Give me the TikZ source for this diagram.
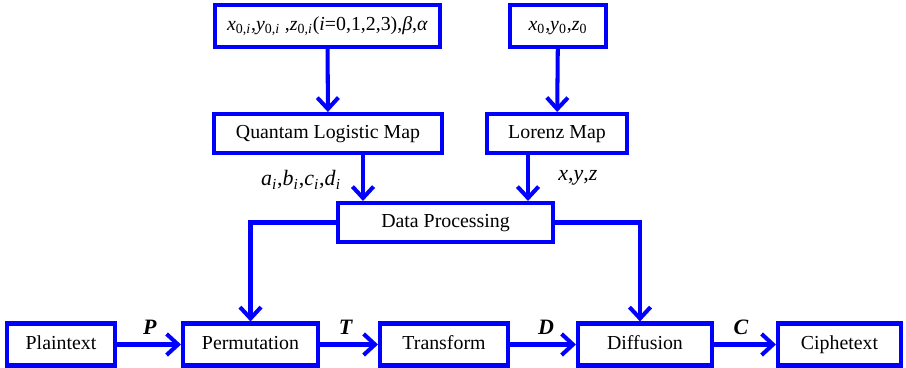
\documentclass[tikz,border=0pt]{standalone}
\usepackage{fontspec}
\setmainfont{Liberation Serif}
\usetikzlibrary{arrows.meta}
\newcommand{\lo}[1]{\textsubscript{#1}}

\begin{document}
\begin{tikzpicture}[x=0.02cm, y=-0.02cm,
	box/.style={draw=blue, line width=2.3pt, fill=white, inner sep=0pt, text height=1.6ex, text depth=0.45ex, font=\fontsize{11.3}{13}\selectfont},
	flow/.style={draw=blue, line width=2.3pt, -{Straight Barb[length=6.5pt, width=12pt, line width=2.3pt]}},
	lbl/.style={font=\fontsize{12.5}{14}\selectfont}]
	\useasboundingbox (0,0) rectangle (906,368);
	% key generation
	\node[box, minimum width=225*0.02cm, minimum height=42*0.02cm] (init1) at (327.5,26) {\textit{x}\lo{0,\textit{i}},\textit{y}\lo{0,\textit{i}} ,\textit{z}\lo{0,\textit{i}}(\textit{i}=0,1,2,3),\textit{β},\textit{α}};
	\node[box, minimum width=96*0.02cm, minimum height=42*0.02cm] (init2) at (558,26) {\textit{x}\lo{0},\textit{y}\lo{0},\textit{z}\lo{0}};
	\node[box, minimum width=228*0.02cm, minimum height=39*0.02cm] (qlm) at (328,133.5) {Quantam Logistic Map};
	\node[box, minimum width=140*0.02cm, minimum height=39*0.02cm] (lorenz) at (557,133.5) {Lorenz Map};
	\node[box, minimum width=215*0.02cm, minimum height=39*0.02cm] (proc) at (445.5,222.5) {Data Processing};
	% encryption chain
	\node[box, minimum width=108*0.02cm, minimum height=42*0.02cm] (plain) at (61,344.5) {Plaintext};
	\node[box, minimum width=135*0.02cm, minimum height=42*0.02cm] (perm) at (250.5,344.5) {Permutation};
	\node[box, minimum width=128*0.02cm, minimum height=42*0.02cm] (trans) at (444,344.5) {Transform};
	\node[box, minimum width=134*0.02cm, minimum height=42*0.02cm] (diff) at (645,344.5) {Diffusion};
	\node[box, minimum width=123*0.02cm, minimum height=42*0.02cm] (cipher) at (839.5,344.5) {Ciphetext};
	\draw[flow] (init1) -- (qlm);
	\draw[flow] (init2) -- (lorenz);
	\draw[flow] (qlm.south -| 363,0) -- (proc.north -| 363,0);
	\draw[flow] (lorenz.south -| 528,0) -- (proc.north -| 528,0);
	\draw[flow] (proc.west) -| (perm.north);
	\draw[flow] (proc.east) -| (diff.north -| 640,0);
	\draw[flow] (plain) -- (perm);
	\draw[flow] (perm) -- (trans);
	\draw[flow] (trans) -- (diff);
	\draw[flow] (diff) -- (cipher);
	% labels
	\node[lbl] (abcd) at (301,180) {\textit{a}\lo{\textit{i}},\textit{b}\lo{\textit{i}},\textit{c}\lo{\textit{i}},\textit{d}\lo{\textit{i}}};
	\node[lbl] (xyz) at (578,178) {\textit{x},\textit{y},\textit{z}};
	\node[lbl] (lp) at (150,327) {\textbf{\textit{P}}};
	\node[lbl] (lt) at (346,327) {\textbf{\textit{T}}};
	\node[lbl] (ld) at (546,327) {\textbf{\textit{D}}};
	\node[lbl] (lc) at (741,327) {\textbf{\textit{C}}};
\end{tikzpicture}
\end{document}
